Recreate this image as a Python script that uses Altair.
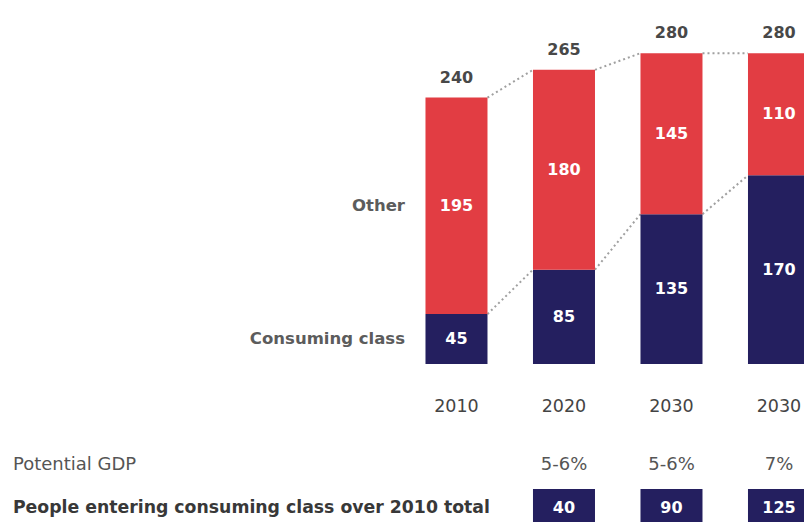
import altair as alt
import pandas as pd

# ---- data ----
years = ["2010", "2020", "2030", "2030"]
consuming = [45, 85, 135, 170]
other = [195, 180, 145, 110]
totals = [240, 265, 280, 280]
gdp = ["", "5-6%", "5-6%", "7%"]
entering = [None, 40, 90, 125]
segment_names = ["Consuming class", "Other"]
row_names = ["Potential GDP", "People entering consuming class over 2010 total"]

# ---- styles / layout constants ----
RED = "#E23D43"
NAVY = "#241F5F"
FONT = "DejaVu Sans"
HALF = 0.2884
W, H = 796, 514
X_DOMAIN = [-4.172, 3.2327]
Y_DOMAIN = [-142.3, 320.7]
ROW_YEAR = -38.7
ROW_GDP = -91.0
ROW_ENTER = -129.7
BOX_TOP = -112.6
BOX_BOTTOM = -147.0
SEG_LABEL_X = -0.479
TABLE_X = -4.126


def xq(field):
    return alt.X(field, scale=alt.Scale(domain=X_DOMAIN, nice=False, zero=False), axis=None)


def yq(field):
    return alt.Y(field, scale=alt.Scale(domain=Y_DOMAIN, nice=False, zero=False), axis=None)


slots = list(range(len(years)))

seg_rows = []
for i in slots:
    seg_rows.append(dict(slot=i, seg=segment_names[0], y0=0, y1=consuming[i], val=consuming[i]))
    seg_rows.append(dict(slot=i, seg=segment_names[1], y0=consuming[i], y1=consuming[i] + other[i], val=other[i]))
seg = pd.DataFrame(seg_rows)
seg["xl"] = seg["slot"] - HALF
seg["xr"] = seg["slot"] + HALF
seg["ym"] = (seg["y0"] + seg["y1"]) / 2
seg["lx"] = SEG_LABEL_X

cols = pd.DataFrame(dict(slot=slots, year=years, total=totals, gdp=gdp))
cols["enter"] = entering
cols["xl"] = cols["slot"] - HALF
cols["xr"] = cols["slot"] + HALF
cols["ry"] = ROW_YEAR
cols["rg"] = ROW_GDP
cols["re"] = ROW_ENTER
cols["bt"] = BOX_TOP
cols["bb"] = BOX_BOTTOM

conn_rows = []
for series in (totals, consuming):
    for i in slots[:-1]:
        conn_rows.append(dict(xa=i + HALF, xb=i + 1 - HALF, ya=series[i], yb=series[i + 1]))
conn = pd.DataFrame(conn_rows)

first = seg[seg["slot"] == 0].copy()

gdp_row = pd.DataFrame(dict(label=[row_names[0]], x=[TABLE_X], y=[ROW_GDP]))
enter_row = pd.DataFrame(dict(label=[row_names[1]], x=[TABLE_X], y=[ROW_ENTER]))

bars = alt.Chart(seg).mark_bar(clip=True).encode(
    x=xq("xl:Q"),
    x2="xr:Q",
    y=yq("y0:Q"),
    y2="y1:Q",
    color=alt.Color("seg:N", scale=alt.Scale(domain=segment_names, range=[NAVY, RED]), legend=None),
)

seg_text = alt.Chart(seg).mark_text(
    font=FONT, fontSize=16, fontWeight="bold", color="white", baseline="middle", clip=True
).encode(x=xq("slot:Q"), y=yq("ym:Q"), text="val:Q")

connectors = alt.Chart(conn).mark_rule(
    color="#a0a0a0", strokeDash=[2, 3], strokeWidth=2, clip=True
).encode(x=xq("xa:Q"), x2="xb:Q", y=yq("ya:Q"), y2="yb:Q")

total_text = alt.Chart(cols).mark_text(
    font=FONT, fontSize=16, fontWeight="bold", color="#484848", baseline="middle", dy=-20, clip=True
).encode(x=xq("slot:Q"), y=yq("total:Q"), text="total:Q")

seg_names_text = alt.Chart(first).mark_text(
    font=FONT, fontSize=16.5, fontWeight="bold", color="#5c5c5c", align="right", baseline="middle"
).encode(x=xq("lx:Q"), y=yq("ym:Q"), text="seg:N")

year_text = alt.Chart(cols).mark_text(
    font=FONT, fontSize=17.5, fontWeight="normal", color="#444444", baseline="middle", clip=True
).encode(x=xq("slot:Q"), y=yq("ry:Q"), text="year:N")

gdp_text = alt.Chart(cols).mark_text(
    font=FONT, fontSize=18, fontWeight="normal", color="#555555", baseline="middle", clip=True
).encode(x=xq("slot:Q"), y=yq("rg:Q"), text="gdp:N")

enter_cols = cols.dropna(subset=["enter"]).copy()
enter_cols["enter"] = enter_cols["enter"].astype(int)

boxes = alt.Chart(enter_cols).mark_rect(color=NAVY, clip=True).encode(
    x=xq("xl:Q"), x2="xr:Q", y=yq("bt:Q"), y2="bb:Q"
)

box_text = alt.Chart(enter_cols).mark_text(
    font=FONT, fontSize=16, fontWeight="bold", color="white", baseline="middle", clip=True
).encode(x=xq("slot:Q"), y=yq("re:Q"), text="enter:Q")

gdp_label = alt.Chart(gdp_row).mark_text(
    font=FONT, fontSize=18, fontWeight="normal", color="#555555", align="left", baseline="middle"
).encode(x=xq("x:Q"), y=yq("y:Q"), text="label:N")

enter_label = alt.Chart(enter_row).mark_text(
    font=FONT, fontSize=17.3, fontWeight="bold", color="#383838", align="left", baseline="middle"
).encode(x=xq("x:Q"), y=yq("y:Q"), text="label:N")

chart = alt.layer(
    connectors, bars, seg_text, total_text, seg_names_text,
    year_text, gdp_text, boxes, box_text, gdp_label, enter_label,
).properties(
    width=W,
    height=H,
    autosize=alt.AutoSizeParams(type="none"),
    padding=0,
    background="white",
).configure_view(stroke=None)

chart.save("out.html", embed_options={"renderer": "svg", "actions": False})
